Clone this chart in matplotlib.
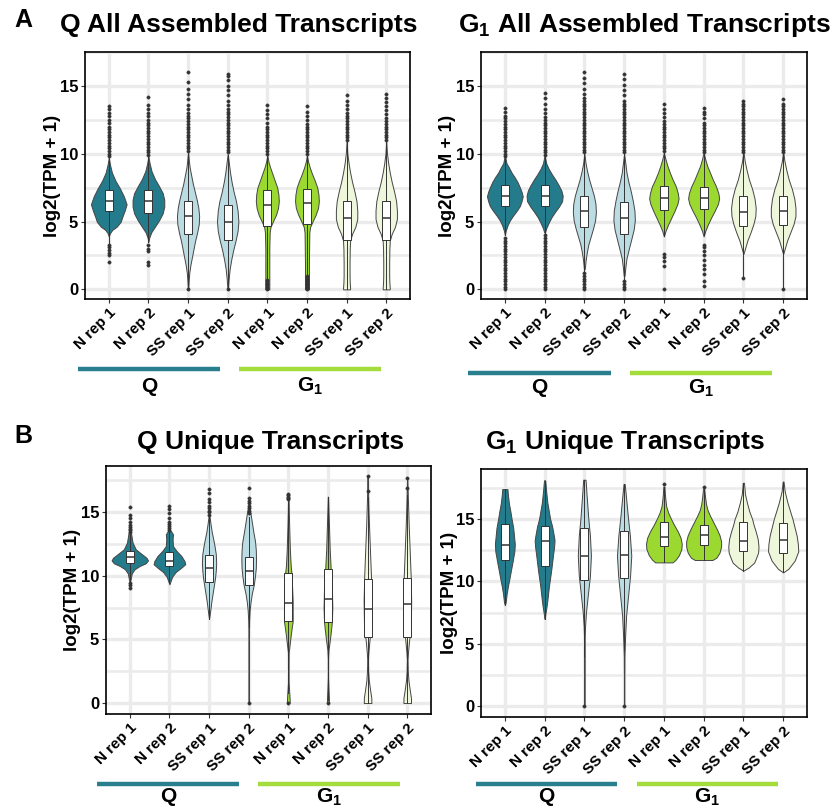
import numpy as np
import matplotlib.pyplot as plt
import matplotlib.transforms as mtransforms
from matplotlib.lines import Line2D

plt.rcParams['font.family'] = ['Liberation Sans', 'DejaVu Sans']
plt.rcParams['mathtext.fontset'] = 'custom'
plt.rcParams['mathtext.rm'] = 'Liberation Sans'
plt.rcParams['mathtext.bf'] = 'Liberation Sans:bold'

W, H = 833, 807

samples = ["N rep 1", "N rep 2", "SS rep 1", "SS rep 2",
           "N rep 1", "N rep 2", "SS rep 1", "SS rep 2"]
fills = ["#237b8b", "#237b8b", "#bcdce3", "#bcdce3",
         "#9bd930", "#9bd930", "#eef6dc", "#eef6dc"]
q_color = "#2a7f8f"
g_color = "#a4dc3c"

# ---- Q, all assembled transcripts: density outline (y, half width), box stats, outliers
qall_shape = [
    [(9.7, 0.0), (9.2, 0.03), (8.6, 0.08), (8.0, 0.17), (7.45, 0.28), (6.86, 0.38), (6.27, 0.45),
     (5.8, 0.40), (5.33, 0.34), (4.98, 0.30), (4.62, 0.20), (4.39, 0.09), (4.15, 0.03), (3.9, 0.0)],
    [(9.8, 0.0), (9.3, 0.03), (8.7, 0.08), (8.1, 0.17), (7.6, 0.27), (7.1, 0.36), (6.6, 0.40),
     (6.1, 0.40), (5.6, 0.36), (5.1, 0.27), (4.6, 0.16), (4.2, 0.07), (3.8, 0.02), (3.5, 0.0)],
    [(10.2, 0.0), (9.5, 0.02), (9.0, 0.04), (8.4, 0.08), (7.8, 0.12), (7.2, 0.17), (6.6, 0.22),
     (6.0, 0.26), (5.4, 0.28), (4.8, 0.27), (4.2, 0.23), (3.6, 0.18), (3.0, 0.14), (2.4, 0.10),
     (1.8, 0.06), (1.2, 0.03), (0.6, 0.015), (0.0, 0.005)],
    [(10.0, 0.0), (9.3, 0.03), (8.6, 0.06), (7.9, 0.10), (7.2, 0.15), (6.5, 0.21), (5.8, 0.25),
     (5.0, 0.27), (4.3, 0.25), (3.6, 0.20), (2.9, 0.14), (2.2, 0.09), (1.5, 0.05), (0.8, 0.025),
     (0.0, 0.005)],
    [(9.9, 0.0), (9.4, 0.03), (9.0, 0.07), (8.5, 0.13), (8.0, 0.19), (7.5, 0.25), (7.0, 0.28),
     (6.5, 0.29), (6.0, 0.27), (5.5, 0.22), (5.0, 0.14), (4.6, 0.08), (4.2, 0.06), (3.0, 0.05),
     (1.0, 0.05), (0.0, 0.05)],
    [(9.9, 0.0), (9.4, 0.03), (9.0, 0.07), (8.5, 0.13), (8.0, 0.20), (7.5, 0.26), (7.0, 0.29),
     (6.5, 0.30), (6.0, 0.28), (5.5, 0.22), (5.0, 0.14), (4.6, 0.08), (4.2, 0.06), (2.0, 0.05),
     (0.0, 0.05)],
    [(10.9, 0.0), (10.0, 0.02), (9.3, 0.05), (8.6, 0.09), (7.9, 0.14), (7.2, 0.20), (6.5, 0.25),
     (5.8, 0.27), (5.2, 0.27), (4.6, 0.22), (4.1, 0.14), (3.6, 0.09), (3.0, 0.08), (2.0, 0.075),
     (1.0, 0.075), (0.5, 0.08), (0.1, 0.09), (0.0, 0.085)],
    [(10.9, 0.0), (10.0, 0.02), (9.3, 0.05), (8.6, 0.09), (7.9, 0.14), (7.2, 0.20), (6.5, 0.25),
     (5.8, 0.27), (5.2, 0.27), (4.6, 0.22), (4.1, 0.14), (3.6, 0.09), (3.0, 0.08), (2.0, 0.075),
     (1.0, 0.075), (0.5, 0.08), (0.1, 0.09), (0.0, 0.085)],
]
qall_box = [  # q1, median, q3, lower whisker, upper whisker
    (5.75, 6.5, 7.33, 3.4, 9.7), (5.6, 6.5, 7.33, 3.5, 9.8),
    (4.1, 5.38, 6.55, 0.3, 10.1), (3.65, 4.98, 6.2, 0.2, 9.9),
    (4.69, 6.23, 7.33, 0.8, 9.9), (4.8, 6.37, 7.38, 1.0, 9.9),
    (3.63, 5.24, 6.55, 0.0, 10.9), (3.63, 5.24, 6.5, 0.0, 10.9),
]
qall_out = [
    [9.8, 10.0, 10.2, 10.4, 10.6, 10.8, 11.0, 11.2, 11.4, 11.6, 11.8, 12.0, 12.3, 12.5, 12.8,
     13.0, 13.3, 13.5, 3.3, 3.1, 2.9, 2.7, 2.5, 2.0],
    [9.9, 10.1, 10.3, 10.5, 10.7, 10.9, 11.1, 11.3, 11.5, 11.7, 11.9, 12.1, 12.3, 12.5, 12.8,
     13.0, 13.3, 13.6, 14.2, 3.3, 3.0, 2.85, 2.0, 1.8],
    [10.2, 10.4, 10.6, 10.8, 11.0, 11.2, 11.4, 11.6, 11.8, 12.0, 12.2, 12.4, 12.6, 12.8, 13.0,
     13.3, 13.6, 14.0, 14.4, 14.8, 15.3, 16.0, 0.0],
    [10.1, 10.3, 10.5, 10.7, 10.9, 11.1, 11.3, 11.5, 11.7, 11.9, 12.1, 12.3, 12.5, 12.7, 12.9,
     13.1, 13.3, 13.6, 13.9, 14.3, 14.7, 15.0, 15.4, 15.7, 15.9, 0.0],
    [10.0, 10.2, 10.4, 10.6, 10.8, 11.0, 11.2, 11.4, 11.6, 11.8, 12.0, 12.3, 12.6, 12.9, 13.2,
     13.6, 0.0, 0.1, 0.2, 0.3, 0.4, 0.5, 0.6, 0.7],
    [10.0, 10.2, 10.4, 10.6, 10.8, 11.0, 11.2, 11.4, 11.6, 11.8, 12.0, 12.2, 12.5, 12.8, 13.1,
     13.5, 0.0, 0.1, 0.2, 0.3, 0.4, 0.5, 0.6, 0.7, 0.8, 0.9, 1.0],
    [11.0, 11.2, 11.4, 11.6, 11.8, 12.0, 12.2, 12.4, 12.6, 12.8, 13.0, 13.3, 13.6, 13.9, 14.3],
    [11.0, 11.2, 11.4, 11.6, 11.8, 12.0, 12.2, 12.4, 12.6, 12.9, 13.2, 13.5, 13.8, 14.1, 14.4],
]

# ---- G1, all assembled transcripts
gall_shape = [
    [(9.9, 0.0), (9.3, 0.04), (9.0, 0.10), (8.6, 0.17), (8.3, 0.24), (7.9, 0.32), (7.57, 0.37),
     (7.2, 0.42), (6.86, 0.45), (6.5, 0.42), (6.16, 0.38), (5.8, 0.30), (5.45, 0.21), (5.1, 0.13),
     (4.74, 0.07), (4.3, 0.02), (4.0, 0.0)],
    [(9.9, 0.0), (9.3, 0.04), (8.9, 0.10), (8.5, 0.18), (8.1, 0.27), (7.7, 0.35), (7.3, 0.42),
     (6.9, 0.455), (6.5, 0.44), (6.1, 0.36), (5.7, 0.26), (5.3, 0.17), (4.9, 0.10), (4.5, 0.04),
     (4.2, 0.01)],
    [(10.0, 0.0), (9.3, 0.03), (8.7, 0.07), (8.1, 0.12), (7.5, 0.18), (6.9, 0.24), (6.3, 0.28),
     (5.7, 0.29), (5.1, 0.27), (4.5, 0.22), (3.9, 0.16), (3.3, 0.10), (2.7, 0.06), (2.1, 0.03),
     (1.5, 0.01)],
    [(10.0, 0.0), (9.3, 0.03), (8.6, 0.06), (7.9, 0.11), (7.2, 0.17), (6.5, 0.22), (5.8, 0.26),
     (5.1, 0.27), (4.4, 0.24), (3.7, 0.18), (3.0, 0.12), (2.3, 0.06), (1.6, 0.03), (1.0, 0.01)],
    [(10.1, 0.0), (9.6, 0.04), (9.1, 0.09), (8.6, 0.15), (8.1, 0.22), (7.6, 0.30), (7.1, 0.35),
     (6.7, 0.37), (6.3, 0.34), (5.8, 0.27), (5.3, 0.19), (4.8, 0.11), (4.3, 0.04), (3.9, 0.0)],
    [(10.1, 0.0), (9.6, 0.04), (9.1, 0.09), (8.6, 0.16), (8.1, 0.23), (7.6, 0.31), (7.1, 0.37),
     (6.7, 0.39), (6.3, 0.36), (5.8, 0.28), (5.3, 0.19), (4.8, 0.11), (4.3, 0.04), (3.9, 0.0)],
    [(10.2, 0.0), (9.5, 0.03), (8.8, 0.08), (8.1, 0.14), (7.4, 0.22), (6.7, 0.28), (6.0, 0.31),
     (5.4, 0.30), (4.8, 0.25), (4.2, 0.18), (3.6, 0.10), (3.0, 0.04), (2.6, 0.0)],
    [(10.2, 0.0), (9.5, 0.03), (8.8, 0.08), (8.1, 0.14), (7.4, 0.22), (6.7, 0.28), (6.0, 0.31),
     (5.4, 0.31), (4.8, 0.26), (4.2, 0.18), (3.6, 0.10), (3.0, 0.04), (2.6, 0.0)],
]
gall_box = [
    (6.16, 6.9, 7.7, 4.0, 9.7), (6.18, 6.92, 7.7, 4.1, 9.8),
    (4.58, 5.75, 6.86, 1.3, 10.0), (4.1, 5.28, 6.46, 0.8, 10.0),
    (5.85, 6.7, 7.6, 3.9, 10.1), (5.92, 6.75, 7.57, 4.0, 10.0),
    (4.7, 5.73, 6.9, 1.0, 10.0), (4.74, 5.75, 6.86, 0.2, 10.0),
]
gall_out = [
    [9.8, 10.0, 10.2, 10.4, 10.6, 10.8, 11.0, 11.2, 11.4, 11.6, 11.8, 12.0, 12.2, 12.4, 12.6,
     12.8, 13.1, 13.4,
     0.0, 0.2, 0.4, 0.6, 0.8, 1.0, 1.2, 1.4, 1.6, 1.8, 2.0, 2.2, 2.4, 2.6, 2.8, 3.0, 3.2, 3.4,
     3.6, 3.8],
    [9.9, 10.1, 10.3, 10.5, 10.7, 10.9, 11.1, 11.3, 11.5, 11.7, 11.9, 12.1, 12.3, 12.5, 12.7,
     13.0, 13.3, 13.7, 14.1, 14.5,
     0.0, 0.2, 0.4, 0.6, 0.8, 1.0, 1.2, 1.4, 1.6, 1.8, 2.0, 2.2, 2.4, 2.6, 2.8, 3.0, 3.2, 3.4,
     3.6, 3.8, 4.0],
    [10.1, 10.3, 10.5, 10.7, 10.9, 11.1, 11.3, 11.5, 11.7, 11.9, 12.1, 12.3, 12.5, 12.7, 12.9,
     13.1, 13.3, 13.5, 13.7, 13.9, 14.1, 14.4, 14.8, 15.2, 15.6, 16.0,
     0.0, 0.2, 0.4, 0.6, 0.8, 1.0, 1.2],
    [10.1, 10.3, 10.5, 10.7, 10.9, 11.1, 11.3, 11.5, 11.7, 11.9, 12.1, 12.3, 12.5, 12.7, 12.9,
     13.1, 13.3, 13.5, 13.7, 13.9, 14.3, 14.7, 15.1, 15.5, 15.9, 0.0, 0.2, 0.4, 0.6],
    [10.2, 10.4, 10.6, 10.8, 11.0, 11.2, 11.4, 11.6, 11.8, 12.0, 12.2, 12.4, 12.7, 13.0, 13.3,
     13.7, 2.6, 2.4, 2.1, 1.7, 0.0],
    [10.1, 10.3, 10.5, 10.7, 10.9, 11.1, 11.3, 11.5, 11.7, 11.9, 12.1, 12.3, 12.6, 12.9, 13.1,
     13.4, 3.3, 3.1, 2.8, 2.5, 2.2, 1.8, 1.5, 1.1, 0.6, 0.25],
    [10.1, 10.3, 10.5, 10.7, 10.9, 11.1, 11.3, 11.5, 11.7, 11.9, 12.1, 12.3, 12.5, 12.7, 12.9,
     13.1, 13.3, 13.5, 13.7, 13.9, 0.85],
    [10.1, 10.3, 10.5, 10.7, 10.9, 11.1, 11.3, 11.5, 11.7, 11.9, 12.1, 12.3, 12.5, 12.7, 12.9,
     13.1, 13.3, 13.5, 13.7, 14.0, 0.0],
]

# ---- Q, unique transcripts
quniq_shape = [
    [(13.4, 0.0), (13.38, 0.03), (12.6, 0.07), (12.07, 0.15), (11.75, 0.28), (11.41, 0.42),
     (11.2, 0.46), (10.97, 0.40), (10.76, 0.25), (10.5, 0.12), (10.18, 0.05), (9.7, 0.02),
     (9.45, 0.0)],
    [(13.5, 0.04), (13.25, 0.09), (12.85, 0.08), (12.33, 0.09), (11.94, 0.18), (11.55, 0.30),
     (11.15, 0.38), (10.9, 0.40), (10.63, 0.30), (10.29, 0.16), (9.92, 0.07), (9.58, 0.03),
     (9.32, 0.0)],
    [(14.7, 0.01), (14.0, 0.04), (13.4, 0.07), (12.8, 0.11), (12.3, 0.14), (11.7, 0.17),
     (11.0, 0.18), (10.4, 0.17), (9.8, 0.15), (9.2, 0.12), (8.6, 0.09), (8.0, 0.06),
     (7.4, 0.035), (6.9, 0.015), (6.6, 0.0)],
    [(15.5, 0.01), (14.8, 0.05), (14.0, 0.09), (13.4, 0.12), (12.7, 0.16), (12.0, 0.18),
     (11.3, 0.185), (10.6, 0.18), (10.0, 0.16), (9.3, 0.13), (8.6, 0.08), (8.0, 0.05),
     (7.3, 0.025), (6.5, 0.012), (5.5, 0.006), (3.0, 0.004), (0.0, 0.004)],
    [(16.3, 0.005), (14.0, 0.02), (12.0, 0.04), (10.8, 0.06), (10.2, 0.08), (8.0, 0.11),
     (6.4, 0.11), (6.0, 0.09), (5.3, 0.06), (4.5, 0.03), (4.0, 0.01), (3.0, 0.005), (2.0, 0.005),
     (1.5, 0.01), (1.0, 0.02), (0.5, 0.03), (0.1, 0.035), (0.0, 0.03)],
    [(16.2, 0.004), (14.0, 0.025), (12.0, 0.045), (10.5, 0.07), (9.0, 0.10), (7.5, 0.11),
     (6.4, 0.10), (5.8, 0.08), (5.0, 0.05), (4.2, 0.015), (3.5, 0.004), (2.0, 0.004),
     (1.0, 0.015), (0.3, 0.025), (0.0, 0.02)],
    [(17.8, 0.004), (16.0, 0.015), (14.0, 0.035), (12.0, 0.06), (10.0, 0.085), (8.0, 0.10),
     (6.0, 0.09), (5.0, 0.05), (4.0, 0.02), (3.4, 0.008), (2.5, 0.015), (1.8, 0.03),
     (1.0, 0.065), (0.4, 0.095), (0.0, 0.095)],
    [(17.6, 0.004), (16.0, 0.017), (14.0, 0.037), (12.0, 0.062), (10.0, 0.087), (8.0, 0.10),
     (6.0, 0.09), (5.0, 0.05), (4.0, 0.02), (3.4, 0.008), (2.5, 0.015), (1.8, 0.03),
     (1.0, 0.065), (0.4, 0.095), (0.0, 0.095)],
]
quniq_box = [
    (11.02, 11.49, 11.94, 9.6, 13.3), (10.76, 11.15, 11.86, 9.4, 13.4),
    (9.53, 10.63, 11.62, 6.6, 14.7), (9.3, 10.37, 11.49, 6.0, 14.6),
    (6.44, 7.88, 10.24, 0.75, 15.9), (6.39, 8.14, 10.5, 0.2, 16.2),
    (5.2, 7.4, 9.71, 0.0, 16.2), (5.2, 7.8, 9.84, 0.0, 16.3),
]
quniq_out = [
    [13.4, 13.55, 13.7, 13.85, 14.0, 14.2, 14.5, 14.8, 15.4, 9.4, 9.25, 9.03],
    [13.6, 13.75, 13.9, 14.05, 14.2, 14.5, 14.9, 15.2, 15.5],
    [14.8, 15.0, 15.1, 15.3, 15.5, 15.8, 16.0, 16.5, 16.8],
    [14.9, 15.1, 15.3, 15.5, 15.7, 15.9, 16.1, 16.9, 0.0],
    [16.0, 16.1, 16.2, 16.3, 16.4, 0.0],
    [0.0],
    [16.65, 17.8],
    [16.86, 17.64],
]

# ---- G1, unique transcripts
guniq_shape = [
    [(17.4, 0.065), (17.0, 0.075), (16.3, 0.10), (15.6, 0.14), (15.0, 0.17), (14.3, 0.21),
     (13.66, 0.23), (13.0, 0.25), (12.4, 0.24), (12.06, 0.22), (11.5, 0.19), (11.0, 0.16),
     (10.3, 0.12), (9.65, 0.08), (9.0, 0.045), (8.3, 0.02), (8.1, 0.0)],
    [(18.1, 0.015), (17.2, 0.04), (16.3, 0.07), (15.0, 0.14), (14.4, 0.19), (13.7, 0.23),
     (13.3, 0.25), (12.8, 0.24), (12.06, 0.21), (11.0, 0.17), (10.3, 0.14), (9.65, 0.11),
     (8.5, 0.07), (8.0, 0.05), (7.4, 0.02), (7.0, 0.005)],
    [(18.15, 0.03), (17.2, 0.05), (15.0, 0.10), (13.66, 0.14), (12.06, 0.165), (10.45, 0.14),
     (8.85, 0.085), (7.5, 0.04), (6.4, 0.017), (5.5, 0.008), (3.0, 0.005), (0.0, 0.005)],
    [(17.8, 0.015), (17.0, 0.04), (15.0, 0.10), (13.66, 0.145), (12.06, 0.18), (10.45, 0.15),
     (8.85, 0.10), (7.25, 0.05), (5.6, 0.025), (4.0, 0.008), (2.0, 0.005), (0.0, 0.005)],
    [(17.6, 0.015), (17.0, 0.025), (16.5, 0.04), (16.0, 0.06), (15.5, 0.11), (15.0, 0.18),
     (14.5, 0.26), (14.0, 0.35), (13.5, 0.42), (13.0, 0.45), (12.6, 0.44), (12.1, 0.38),
     (11.75, 0.30), (11.52, 0.22)],
    [(17.4, 0.015), (16.8, 0.035), (16.2, 0.06), (15.7, 0.10), (15.2, 0.17), (14.7, 0.25),
     (14.2, 0.33), (13.7, 0.40), (13.2, 0.44), (12.8, 0.44), (12.3, 0.40), (11.9, 0.32),
     (11.71, 0.22)],
    [(17.9, 0.015), (17.0, 0.04), (16.3, 0.09), (15.6, 0.15), (15.0, 0.22), (14.5, 0.26),
     (14.0, 0.31), (13.4, 0.36), (12.8, 0.38), (12.3, 0.37), (11.8, 0.31), (11.5, 0.27),
     (11.1, 0.13), (10.86, 0.0)],
    [(18.0, 0.01), (17.2, 0.04), (16.3, 0.11), (15.0, 0.235), (13.66, 0.34), (13.0, 0.37),
     (12.4, 0.38), (11.66, 0.29), (11.0, 0.13), (10.72, 0.0)],
]
guniq_box = [
    (11.7, 12.9, 14.6, 8.1, 17.4), (11.26, 13.26, 14.47, 6.95, 18.07),
    (10.13, 12.06, 14.25, 4.0, 18.15), (10.24, 12.11, 14.06, 4.5, 17.8),
    (12.8, 13.53, 14.73, 11.55, 17.6), (12.91, 13.74, 14.52, 11.71, 17.4),
    (12.46, 13.26, 14.73, 10.86, 17.9), (12.27, 13.34, 14.68, 10.72, 18.0),
]
guniq_out = [[], [], [0.0], [0.0], [17.8], [17.55], [], []]


fig = plt.figure(figsize=(W / 100, H / 100), dpi=100)


def px_rect(x0, y0, x1, y1):
    return [x0 / W, 1 - y1 / H, (x1 - x0) / W, (y1 - y0) / H]


def draw_panel(rect, shapes, boxes, outliers, ylim, label_x):
    ax = fig.add_axes(rect)
    pos = np.arange(1, 9)

    stats = []
    widths = []
    for prof, b in zip(shapes, boxes):
        ys = [p[0] for p in prof]
        ws = [p[1] for p in prof]
        stats.append(dict(coords=ys, vals=ws, mean=b[1], median=b[1],
                          min=min(ys), max=max(ys)))
        widths.append(2 * max(ws))
    parts = ax.violin(stats, positions=pos, widths=widths, showmeans=False,
                      showextrema=False, showmedians=False)
    for body, c in zip(parts['bodies'], fills):
        body.set_facecolor(c)
        body.set_edgecolor('#454545')
        body.set_linewidth(0.7)
        body.set_alpha(1)
        body.set_zorder(2)

    bstats = [dict(q1=b[0], med=b[1], q3=b[2], whislo=b[3], whishi=b[4], fliers=o)
              for b, o in zip(boxes, outliers)]
    ax.bxp(bstats, positions=pos, widths=0.2, patch_artist=True, showcaps=False,
           boxprops=dict(facecolor='white', edgecolor='#333333', linewidth=0.7),
           medianprops=dict(color='#333333', linewidth=1.1),
           whiskerprops=dict(color='#333333', linewidth=0.7),
           flierprops=dict(marker='o', markersize=2.4, markerfacecolor='#333333',
                           markeredgecolor='#333333', markeredgewidth=0.3),
           zorder=3)

    ax.set_xlim(0.4, 8.6)
    ax.set_ylim(*ylim)
    ax.set_xticks(pos)
    ax.set_xticklabels(samples, rotation=45, ha='right', rotation_mode='anchor',
                       fontsize=11, fontweight='bold')
    shift = mtransforms.ScaledTranslation(0.06, -0.02, fig.dpi_scale_trans)
    for t in ax.get_xticklabels():
        t.set_transform(t.get_transform() + shift)
    ax.set_yticks([0, 5, 10, 15])
    ax.set_yticks([2.5, 7.5, 12.5, 17.5], minor=True)
    for t in ax.get_yticklabels():
        t.set_fontweight('bold')
        t.set_fontsize(12)
    ax.tick_params(which='major', length=3, width=0.8, color='#333333', pad=2)
    ax.tick_params(which='minor', length=0)
    ax.set_axisbelow(True)
    ax.grid(which='major', color='#ebebeb', linewidth=2.4)
    ax.grid(which='minor', axis='y', color='#ebebeb', linewidth=1.8)
    for s in ax.spines.values():
        s.set_linewidth(1.2)
        s.set_color('black')
    ax.set_ylabel('log2(TPM + 1)', fontsize=13.5, fontweight='bold')
    ax.yaxis.set_label_coords(label_x, 0.5)
    return ax


draw_panel(px_rect(85, 52, 410, 299), qall_shape, qall_box, qall_out, (-0.71, 16.77), -0.075)
draw_panel(px_rect(481, 52, 807, 299), gall_shape, gall_box, gall_out, (-0.71, 16.77), -0.078)
draw_panel(px_rect(106, 466, 431, 714), quniq_shape, quniq_box, quniq_out, (-0.86, 18.61), -0.078)
draw_panel(px_rect(481, 469, 807, 717), guniq_shape, guniq_box, guniq_out, (-0.88, 19.01), -0.072)


def fig_text(x, y, s, **kw):
    fig.text(x / W, 1 - y / H, s, ha='center', va='center', fontweight='bold', **kw)


def group_bars(q_span, g_span, y_bar, y_lab):
    for (x0, x1), c, lab in ((q_span, q_color, 'Q'), (g_span, g_color, r'$\mathbf{G_1}$')):
        fig.add_artist(Line2D([x0 / W, x1 / W], [1 - y_bar / H, 1 - y_bar / H],
                              color=c, linewidth=3.2, solid_capstyle='butt'))
        fig_text((x0 + x1) / 2, y_lab, lab, fontsize=15)


group_bars((78, 220), (239, 381), 369, 386)
group_bars((468, 611), (630, 772), 373, 388)
group_bars((97, 239), (258, 400), 784, 797)
group_bars((476, 617), (637, 778), 784, 797)

fig_text(239, 25, 'Q All Assembled Transcripts', fontsize=19)
fig_text(644, 25, r'$\mathbf{G_1}$ All Assembled Transcripts', fontsize=19)
fig_text(271, 442, 'Q Unique Transcripts', fontsize=19)
fig_text(625, 442, r'$\mathbf{G_1}$ Unique Transcripts', fontsize=19)
fig_text(23, 20, 'A', fontsize=18)
fig_text(23, 436, 'B', fontsize=18)

fig.savefig('out.png', dpi=100)
